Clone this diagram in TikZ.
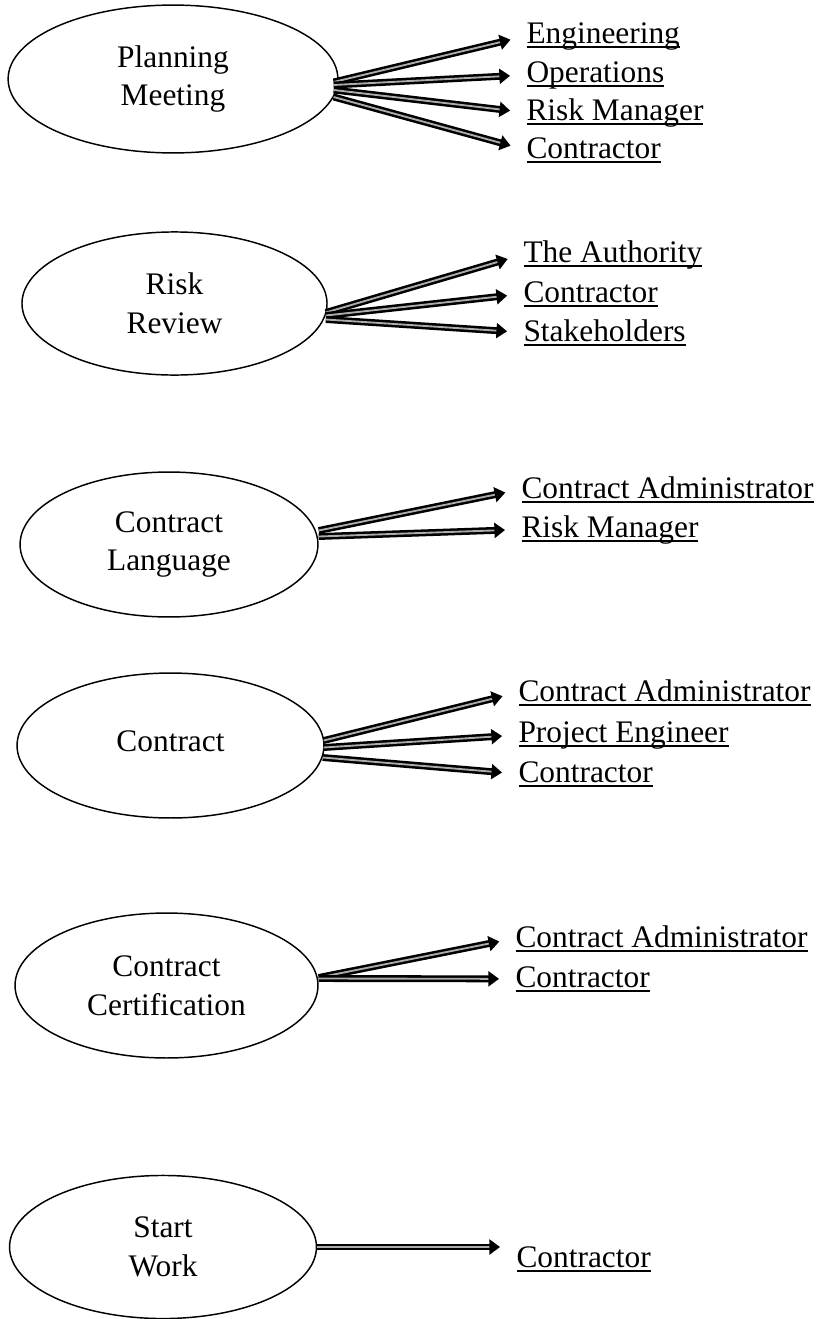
\documentclass[tikz,border=0pt]{standalone}
\usepackage{fontspec}
\setmainfont{Liberation Serif}
\usetikzlibrary{shapes.geometric,arrows.meta,calc}

\newcommand{\ultext}[1]{\setbox0\hbox{#1}\rlap{\rule[-1.7pt]{\wd0}{0.6pt}}\box0}

\tikzset{
  oval/.style={ellipse, draw, line width=0.55pt, inner sep=0pt, align=center},
  lbl/.style={anchor=base west, inner sep=0pt},
  arr/.style={draw=black, line width=0.95pt, double=gray!65, double distance=0.7pt,
    -{Triangle[length=4pt,width=5.6pt]}, shorten >=6pt}
}

\begin{document}
\begin{tikzpicture}[x=0.376pt, y=-0.376pt, font=\fontsize{11.8pt}{14.5pt}\selectfont]
            \useasboundingbox (0,0) rectangle (820,1319);
            % Planning Meeting
            \draw (173,79) node[oval, minimum width=124pt, minimum height=55.6pt] (plan) {Planning\\Meeting};
            \draw (526,43) node[lbl] (plan1) {\ultext{Engineering}};
            \draw (526,82) node[lbl] (plan2) {\ultext{Operations}};
            \draw (526,120) node[lbl] (plan3) {\ultext{Risk Manager}};
            \draw (526,158) node[lbl] (plan4) {\ultext{Contractor}};
            \draw[arr] ($(plan.east)+(-5,3)$) -- (plan1.west);
            \draw[arr] ($(plan.east)+(-5,6)$) -- (plan2.west);
            \draw[arr] ($(plan.east)+(-5,11)$) -- (plan3.west);
            \draw[arr] ($(plan.east)+(-5,18)$) -- (plan4.west);
            % Risk Review
            \draw (174.5,303.5) node[oval, minimum width=114.7pt, minimum height=53.8pt] (risk) {Risk\\Review};
            \draw (523,262) node[lbl] (risk1) {\ultext{The Authority}};
            \draw (523,302) node[lbl] (risk2) {\ultext{Contractor}};
            \draw (523,341) node[lbl] (risk3) {\ultext{Stakeholders}};
            \draw[arr] ($(risk.east)+(-2,9)$) -- (risk1.west);
            \draw[arr] ($(risk.east)+(-2,12)$) -- (risk2.west);
            \draw[arr] ($(risk.east)+(-2,16)$) -- (risk3.west);
            % Contract Language
            \draw (169,544.5) node[oval, minimum width=112pt, minimum height=54.5pt] (lang) {Contract\\Language};
            \draw (521,498) node[lbl] (lang1) {\ultext{Contract Administrator}};
            \draw (521,537) node[lbl] (lang2) {\ultext{Risk Manager}};
            \draw[arr] ($(lang.east)+(0,-14)$) -- (lang1.west);
            \draw[arr] ($(lang.east)+(0,-8)$) -- (lang2.west);
            % Contract
            \draw (170.5,745.5) node[oval, minimum width=115.4pt, minimum height=54.5pt] (contr) {\raisebox{3.6pt}{Contract}};
            \draw (518,701) node[lbl] (contr1) {\ultext{Contract Administrator}};
            \draw (518,742) node[lbl] (contr2) {\ultext{Project Engineer}};
            \draw (518,782) node[lbl] (contr3) {\ultext{Contractor}};
            \draw[arr] ($(contr.east)+(-1,-5)$) -- (contr1.west);
            \draw[arr] ($(contr.east)+(-1,2)$) -- (contr2.west);
            \draw[arr] ($(contr.east)+(-2,12)$) -- (contr3.west);
            % Contract Certification
            \draw (166.5,985.5) node[oval, minimum width=113.9pt, minimum height=54.5pt] (cert) {Contract\\Certification};
            \draw (515,947) node[lbl] (cert1) {\ultext{Contract Administrator}};
            \draw (515,987) node[lbl] (cert2) {\ultext{Contractor}};
            \draw[arr] ($(cert.east)+(0,-8)$) -- (cert1.west);
            \draw[arr] ($(cert.east)+(0,-7)$) -- (cert2.west);
            % Start Work
            \draw (163,1247) node[oval, minimum width=115.4pt, minimum height=53.8pt] (start) {Start\\Work};
            \draw (516,1267) node[lbl] (start1) {\ultext{Contractor}};
            \draw[arr] (start.east) -- (start.east -| start1.west);
\end{tikzpicture}
\end{document}
